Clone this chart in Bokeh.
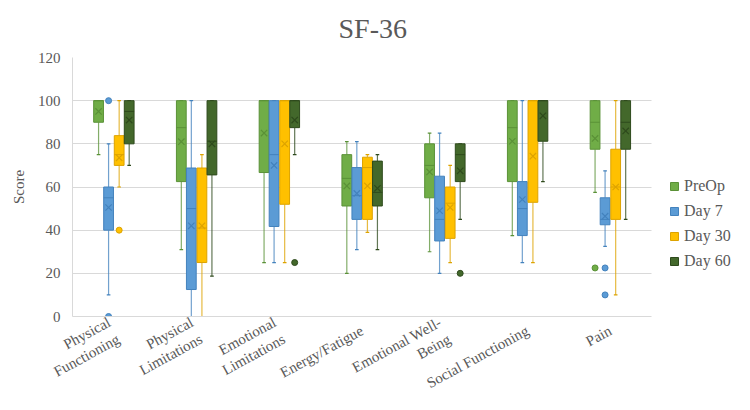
from bokeh.plotting import figure
from bokeh.models import ColumnDataSource, Range1d, FixedTicker, Legend, LegendItem, Title, FactorRange
from bokeh.transform import dodge
from bokeh.embed import file_html
from bokeh.resources import INLINE

categories = ["Physical\nFunctioning", "Physical\nLimitations", "Emotional\nLimitations",
              "Energy/Fatigue", "Emotional Well-\nBeing", "Social Functioning", "Pain"]
series_names = ["PreOp", "Day 7", "Day 30", "Day 60"]
y_ticks = [0, 20, 40, 60, 80, 100, 120]

preop_lower = [75, 31, 25, 20, 30, 37.5, 57.5]
preop_q1 = [90, 62.5, 66.7, 51.2, 55, 62.5, 77.5]
preop_median = [100, 87.5, 100, 64, 70, 87.5, 90]
preop_q3 = [100, 100, 100, 75, 80, 100, 100]
preop_upper = [100, 100, 100, 81, 85, 100, 100]
preop_mean = [95, 81, 85, 60.5, 67, 81.2, 82.5]

day7_lower = [10, 0, 25, 31, 20, 25, 32.5]
day7_q1 = [40, 12.5, 41.7, 45, 35, 37.5, 42.5]
day7_median = [55, 50, 75, 56, 45, 50, 45]
day7_q3 = [60, 68.8, 100, 69, 65, 62.5, 55]
day7_upper = [80, 100, 100, 81, 85, 100, 67.5]
day7_mean = [50.5, 42, 70, 57, 49, 54.2, 46.5]

day30_lower = [60, 0, 25, 39, 25, 25, 10]
day30_q1 = [70, 25, 52, 45, 36.2, 52.9, 45]
day30_median = [75, 41, 100, 69, 52.5, 100, 60]
day30_q3 = [83.8, 68.8, 100, 73.8, 60, 100, 77.5]
day30_upper = [100, 75, 100, 75, 70, 100, 100]
day30_mean = [73.5, 42, 80, 60.5, 50.5, 74.3, 60]

day60_lower = [70, 18.75, 75, 31, 45, 62.5, 45]
day60_q1 = [80, 65.6, 87.5, 51.2, 62.5, 81.2, 77.5]
day60_median = [95, 81.2, 100, 57.5, 75, 100, 90]
day60_q3 = [100, 100, 100, 72, 80, 100, 100]
day60_upper = [100, 100, 100, 75, 80, 100, 100]
day60_mean = [91, 80, 91, 59.4, 67.5, 93, 86]

preop_out_cat = ["Pain"]
preop_out_val = [22.5]
day7_out_cat = ["Physical\nFunctioning", "Physical\nFunctioning", "Pain", "Pain"]
day7_out_val = [100, 0, 22.5, 10]
day30_out_cat = ["Physical\nFunctioning"]
day30_out_val = [40]
day60_out_cat = ["Emotional\nLimitations", "Emotional Well-\nBeing"]
day60_out_val = [25, 20]

stats = [
    (preop_lower, preop_q1, preop_median, preop_q3, preop_upper, preop_mean, preop_out_cat, preop_out_val),
    (day7_lower, day7_q1, day7_median, day7_q3, day7_upper, day7_mean, day7_out_cat, day7_out_val),
    (day30_lower, day30_q1, day30_median, day30_q3, day30_upper, day30_mean, day30_out_cat, day30_out_val),
    (day60_lower, day60_q1, day60_median, day60_q3, day60_upper, day60_mean, day60_out_cat, day60_out_val),
]

fills = ["#70AD47", "#5B9BD5", "#FFC000", "#43682B"]
lines = ["#5A9137", "#4382BD", "#DDA300", "#2E4A1C"]
offsets = [-0.185, -0.064, 0.064, 0.185]
box_w = 0.118
cap = 0.022

FONT = "Liberation Serif"
QFONT = '"Liberation Serif"'
GRAY = "#595959"

# an extra blank slot on the right holds the legend area
x_range = FactorRange(factors=categories + [" "])

p = figure(width=750, height=410, x_range=x_range, y_range=Range1d(0, 120),
           output_backend="svg", toolbar_location=None,
           min_border_left=72, min_border_right=16, min_border_top=57, min_border_bottom=93)
p.outline_line_color = None
p.background_fill_color = "white"
p.border_fill_color = "white"

p.xgrid.grid_line_color = None
p.ygrid.grid_line_color = "#D9D9D9"
p.ygrid.cross_bounds = (0, len(categories))
p.yaxis.ticker = FixedTicker(ticks=y_ticks)
p.xaxis.bounds = (0, len(categories))

p.xaxis.axis_line_color = "#D9D9D9"
p.yaxis.axis_line_color = "#D9D9D9"
p.xaxis.major_tick_line_color = None
p.yaxis.major_tick_line_color = None
p.xaxis.minor_tick_line_color = None
p.yaxis.minor_tick_line_color = None
p.xaxis.major_tick_out = 0
p.yaxis.major_tick_out = 0
p.xaxis.major_tick_in = 0
p.yaxis.major_tick_in = 0
p.xaxis.major_label_text_font = QFONT
p.yaxis.major_label_text_font = QFONT
p.xaxis.major_label_text_font_size = "15px"
p.yaxis.major_label_text_font_size = "15px"
p.xaxis.major_label_text_color = GRAY
p.yaxis.major_label_text_color = GRAY

p.yaxis.axis_label = "Score"
p.yaxis.axis_label_text_font = FONT
p.yaxis.axis_label_text_font_size = "15px"
p.yaxis.axis_label_text_font_style = "normal"
p.yaxis.axis_label_text_color = GRAY
p.yaxis.major_label_standoff = 12
p.yaxis.axis_label_standoff = 8
p.xaxis.major_label_orientation = 0.5
p.xaxis.major_label_standoff = 13

items = []
for i, (lo, q1, med, q3, up, mn, ocat, oval) in enumerate(stats):
    src = ColumnDataSource(dict(cat=categories, lower=lo, q1=q1, median=med, q3=q3, upper=up, mean=mn))
    o = offsets[i]
    xc = dodge("cat", o, range=p.x_range)
    xl = dodge("cat", o - cap, range=p.x_range)
    xr = dodge("cat", o + cap, range=p.x_range)
    xbl = dodge("cat", o - box_w / 2, range=p.x_range)
    xbr = dodge("cat", o + box_w / 2, range=p.x_range)
    p.segment(x0=xc, y0="q3", x1=xc, y1="upper", source=src, line_color=lines[i], line_alpha=0.75, line_width=1.2)
    p.segment(x0=xc, y0="q1", x1=xc, y1="lower", source=src, line_color=lines[i], line_alpha=0.75, line_width=1.2)
    p.segment(x0=xl, y0="upper", x1=xr, y1="upper", source=src, line_color=lines[i], line_width=1.2)
    p.segment(x0=xl, y0="lower", x1=xr, y1="lower", source=src, line_color=lines[i], line_width=1.2)
    r = p.vbar(x=xc, top="q3", bottom="q1", width=box_w, source=src,
               fill_color=fills[i], line_color=lines[i], line_width=1)
    items.append(LegendItem(label=series_names[i], renderers=[r]))
    p.segment(x0=xbl, y0="median", x1=xbr, y1="median", source=src, line_color=lines[i], line_width=1)
    p.scatter(x=xc, y="mean", source=src, marker="x", size=9, line_color=lines[i], line_width=1.2)
    osrc = ColumnDataSource(dict(cat=ocat, val=oval))
    p.scatter(x=dodge("cat", o, range=p.x_range), y="val", source=osrc, marker="circle", size=6,
              fill_color=fills[i], line_color=lines[i], line_width=1)

legend = Legend(items=items, location=(597, 46), orientation="vertical",
                glyph_width=10, glyph_height=10, label_height=10, spacing=7,
                label_standoff=5, padding=0, margin=0,
                border_line_color=None, background_fill_alpha=0,
                label_text_font=FONT, label_text_font_size="16px", label_text_color=GRAY)
p.add_layout(legend)

p.title = Title(text="SF-36", align="left", offset=266, standoff=24, vertical_align="top",
                text_font=FONT, text_font_size="28px", text_font_style="normal", text_color=GRAY)

open("out.html", "w").write(file_html(p, INLINE))
